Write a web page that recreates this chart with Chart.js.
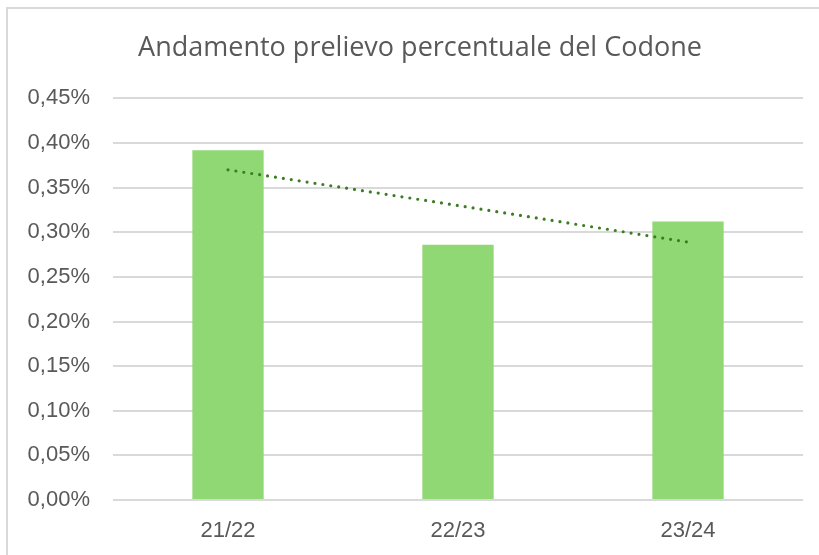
<!DOCTYPE html>
<html>
<head>
<meta charset="utf-8">
<script src="https://cdn.jsdelivr.net/npm/chart.js@4.4.1/dist/chart.umd.min.js"></script>
<style>
  html, body { margin: 0; padding: 0; background: #fff; }
  #wrap { position: relative; width: 819px; height: 555px; overflow: hidden; }
  #frame {
    position: absolute; left: 6px; top: 7px; width: 840px; height: 580px;
    border: 2px solid #d9d9d9; box-sizing: border-box; pointer-events: none;
  }
  canvas { position: absolute; left: 0; top: 0; }
</style>
</head>
<body>
<div id="wrap">
  <canvas id="chart-codone" width="819" height="555"></canvas>
  <div id="frame"></div>
</div>
<script>
  // Andamento prelievo percentuale del Codone
  var stagioni = ['21/22', '22/23', '23/24'];
  var prelievo = [0.392, 0.286, 0.312];
  // linea di tendenza (lineare)
  var tendenza = [0.370, 0.330, 0.289];
  var yMax = 0.45;
  var yStep = 0.05;

  var TESTO = '#595959';

  function pct(v) {
    return v.toFixed(2).replace('.', ',') + '%';
  }

  // il titolo nell'originale e' centrato un po' piu' a destra
  var spostaTitolo = {
    id: 'spostaTitolo',
    afterLayout: function (chart) {
      if (chart.titleBlock) chart.titleBlock.left += 37;
    }
  };

  var ctx = document.getElementById('chart-codone');
  new Chart(ctx, {
    type: 'bar',
    data: {
      labels: stagioni,
      datasets: [
        {
          type: 'line',
          label: 'Tendenza',
          data: tendenza,
          borderColor: '#3a7d22',
          borderWidth: 3.2,
          borderDash: [0, 8],
          borderCapStyle: 'round',
          pointRadius: 0,
          fill: false,
          order: 0
        },
        {
          label: 'Prelievo',
          data: prelievo,
          backgroundColor: '#8fd873',
          borderWidth: 0,
          categoryPercentage: 1,
          barPercentage: 0.31,
          order: 1
        }
      ]
    },
    plugins: [spostaTitolo],
    options: {
      responsive: false,
      animation: false,
      layout: { padding: { left: 0, right: 16, top: 0, bottom: 11 } },
      plugins: {
        legend: { display: false },
        tooltip: { enabled: false },
        title: {
          display: true,
          text: 'Andamento prelievo percentuale del Codone',
          color: TESTO,
          font: { family: 'Open Sans, Liberation Sans, sans-serif', size: 27, weight: 'normal' },
          padding: { top: 32, bottom: 34 }
        }
      },
      scales: {
        x: {
          grid: { display: false, drawTicks: false },
          border: { display: false },
          ticks: {
            color: TESTO,
            font: { family: 'Liberation Sans, Arial, sans-serif', size: 22 },
            padding: 18
          },
          afterFit: function (scale) { scale.height = 44; }
        },
        y: {
          min: 0,
          max: yMax,
          grid: { color: '#d9d9d9', lineWidth: 2, drawTicks: false },
          border: { display: false },
          ticks: {
            stepSize: yStep,
            color: TESTO,
            font: { family: 'Liberation Sans, Arial, sans-serif', size: 22 },
            padding: 23,
            callback: function (v) { return pct(v); }
          },
          afterFit: function (scale) { scale.width = 113; }
        }
      }
    }
  });
</script>
</body>
</html>
